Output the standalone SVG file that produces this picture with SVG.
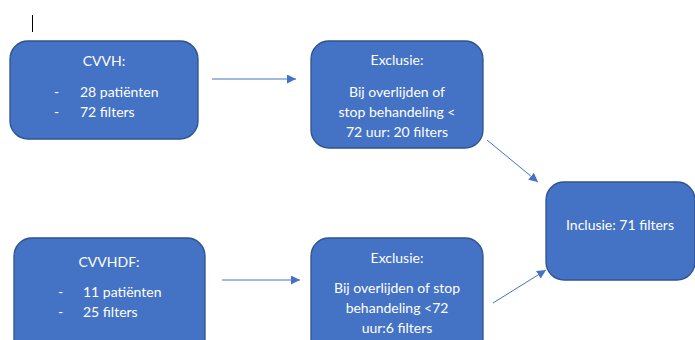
<svg xmlns="http://www.w3.org/2000/svg" width="695" height="340" viewBox="0 0 695 340">
<defs>
<style>
.box{fill:#4472C4;stroke:#2F528F;stroke-width:1.3}
.t{font-family:Lato,"Open Sans","Liberation Sans",sans-serif;font-size:14px;fill:#FFFFFF;text-anchor:middle}
.ts{font-family:Lato,"Open Sans","Liberation Sans",sans-serif;font-size:14px;fill:#FFFFFF}
.c{stroke:#4472C4;stroke-width:1;fill:none;marker-end:url(#ah)}
</style>
<marker id="ah" viewBox="0 0 10 10" refX="10" refY="5" markerWidth="9" markerHeight="9" markerUnits="userSpaceOnUse" orient="auto">
<path d="M0,0 L10,5 L0,10 z" fill="#4472C4"/>
</marker>
</defs>
<rect width="695" height="340" fill="#FFFFFF"/>
<line x1="32.5" y1="15" x2="32.5" y2="32" stroke="#000000" stroke-width="1"/>
<g id="connectors">
<line class="c" x1="212" y1="79" x2="296" y2="79"/>
<line class="c" x1="487" y1="140" x2="538" y2="182"/>
<line class="c" x1="222" y1="280" x2="300" y2="280"/>
<line class="c" x1="493" y1="303" x2="546" y2="270"/>
</g>
<g id="cvvh">
<rect class="box" x="10" y="41" width="188" height="98" rx="18"/>
<text class="t" x="104" y="66">CVVH:</text>
<text class="ts" x="54" y="97">-</text>
<text class="ts" x="80" y="97">28 patiënten</text>
<text class="ts" x="54" y="117">-</text>
<text class="ts" x="80" y="117">72 filters</text>
</g>
<g id="exclusie1">
<rect class="box" x="311" y="41" width="172" height="107" rx="18"/>
<text class="t" x="397" y="65">Exclusie:</text>
<text class="t" x="397" y="97">Bij  overlijden of</text>
<text class="t" x="397" y="117">stop behandeling &lt;</text>
<text class="t" x="397" y="137">72 uur: 20 filters</text>
</g>
<g id="inclusie">
<rect class="box" x="546" y="182" width="149" height="98" rx="18"/>
<text class="t" x="620" y="230">Inclusie: 71 filters</text>
</g>
<g id="cvvhdf">
<rect class="box" x="14" y="238" width="191" height="120" rx="18"/>
<text class="t" x="109" y="267">CVVHDF:</text>
<text class="ts" x="58" y="297">-</text>
<text class="ts" x="83" y="297">11 patiënten</text>
<text class="ts" x="58" y="317">-</text>
<text class="ts" x="83" y="317">25 filters</text>
</g>
<g id="exclusie2">
<rect class="box" x="311" y="238" width="172" height="120" rx="18"/>
<text class="t" x="397" y="263">Exclusie:</text>
<text class="t" x="397" y="293">Bij overlijden of stop</text>
<text class="t" x="397" y="313">behandeling &lt;72</text>
<text class="t" x="397" y="333">uur:6 filters</text>
</g>
</svg>
